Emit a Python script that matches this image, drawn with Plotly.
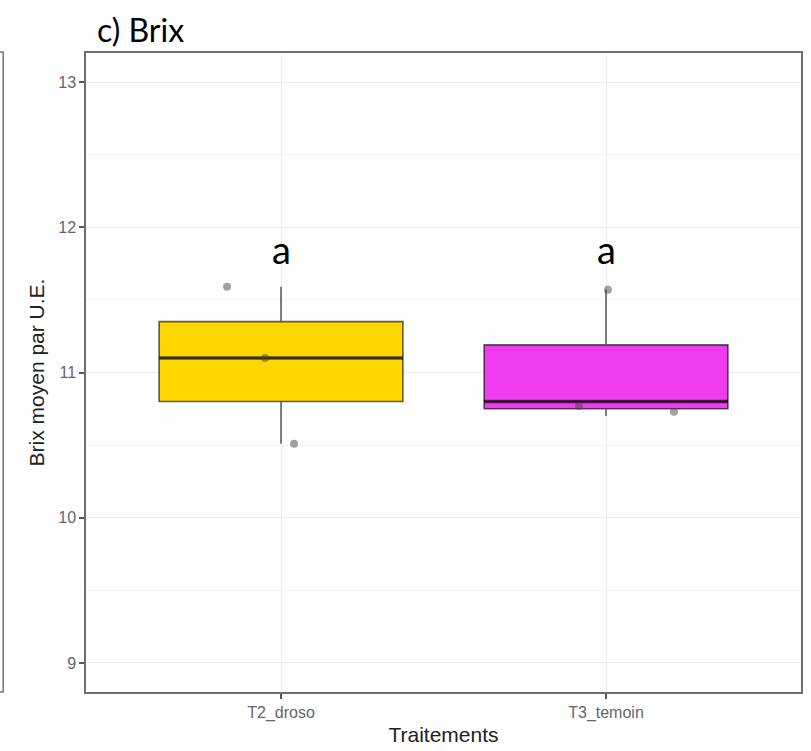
import plotly.graph_objects as go

categories = ["T2_droso", "T3_temoin"]
box_colors = ["#FFD700", "#EE3CEE"]
lower = [10.51, 10.70]
q1 = [10.80, 10.75]
median = [11.10, 10.80]
q3 = [11.35, 11.19]
upper = [11.59, 11.57]

# jittered observations (x offset from category centre, value)
pts_offset = [[-0.166, -0.049, 0.040], [0.006, -0.083, 0.209]]
pts_value = [[11.59, 11.10, 10.51], [11.57, 10.77, 10.73]]

letters = ["a", "a"]
letter_y = 11.85
yticks = [9, 10, 11, 12, 13]

BOX_W = 0.75
fig = go.Figure()
for i, cat in enumerate(categories):
    fig.add_trace(go.Box(
        x=[i], q1=[q1[i]], median=[median[i]], q3=[q3[i]],
        lowerfence=[lower[i]], upperfence=[upper[i]],
        width=BOX_W, whiskerwidth=0, fillcolor=box_colors[i],
        line=dict(color="rgba(0,0,0,0.62)", width=1.6),
        boxpoints=False, showlegend=False, hoverinfo="skip"))
    fig.add_trace(go.Scatter(
        x=[i - BOX_W / 2, i + BOX_W / 2], y=[median[i], median[i]],
        mode="lines", line=dict(color="rgba(0,0,0,0.62)", width=3.5),
        showlegend=False, hoverinfo="skip"))
    fig.add_trace(go.Scatter(
        x=[i + o for o in pts_offset[i]], y=pts_value[i], mode="markers",
        marker=dict(size=8, color="rgba(70,70,70,0.5)", line=dict(width=0)),
        showlegend=False, hoverinfo="skip"))

for i, lab in enumerate(letters):
    fig.add_annotation(x=i, y=letter_y, text=lab, showarrow=False,
                       font=dict(family="Lato", size=38, color="black"),
                       xanchor="center", yanchor="middle")

fig.add_annotation(xref="paper", yref="paper", x=0.012, y=1.036, text="c) Brix",
                   showarrow=False, xanchor="left", yanchor="middle",
                   font=dict(family="Lato", size=32, color="black"))

# edge of neighbouring panel
fig.add_shape(type="rect", xref="paper", yref="paper", x0=-0.3, x1=-0.1158,
              y0=0, y1=1.0016, line=dict(color="#777777", width=1.5), layer="above")

fig.update_layout(
    width=811, height=751,
    margin=dict(l=86, r=8, t=53, b=58),
    paper_bgcolor="white", plot_bgcolor="white",
    font=dict(family="Liberation Sans", color="#4D4D4D"),
)
fig.update_xaxes(
    range=[-0.6, 1.6], tickvals=[0, 1], ticktext=categories,
    showgrid=True, gridcolor="#EBEBEB", gridwidth=1,
    showline=True, mirror=True, linecolor="#6E6E6E", linewidth=1.5,
    ticks="outside", ticklen=5, tickcolor="#555555", tickwidth=1.5,
    tickfont=dict(size=16, color="#666666"), zeroline=False,
    title=dict(text="Traitements", font=dict(size=21, color="#222222"), standoff=6),
)
fig.update_yaxes(
    range=[8.8, 13.2], tickvals=yticks,
    showgrid=True, gridcolor="#EBEBEB", gridwidth=1,
    minor=dict(dtick=0.5, showgrid=True, gridcolor="#F4F4F4", gridwidth=1, tick0=9),
    showline=True, mirror=True, linecolor="#6E6E6E", linewidth=1.5,
    ticks="outside", ticklen=5, tickcolor="#555555", tickwidth=1.5,
    tickfont=dict(size=16, color="#666666"), zeroline=False,
    title=dict(text="Brix moyen par U.E.", font=dict(size=21, color="#222222"), standoff=8),
)

fig.write_html("out.html")
